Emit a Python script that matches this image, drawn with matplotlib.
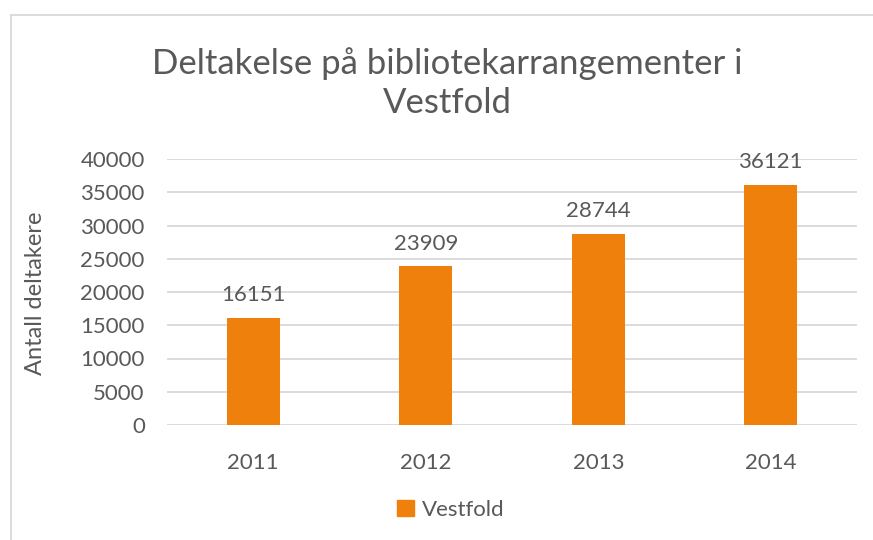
import matplotlib
matplotlib.use("Agg")
import matplotlib.pyplot as plt
from matplotlib.lines import Line2D
from matplotlib.patches import Patch

years = ["2011", "2012", "2013", "2014"]
values = [16151, 23909, 28744, 36121]
yticks = [0, 5000, 10000, 15000, 20000, 25000, 30000, 35000, 40000]
title = "Deltakelse på bibliotekarrangementer i\nVestfold"
ylabel = "Antall deltakere"
series_name = "Vestfold"

W, H = 873, 540
plt.rcParams['font.family'] = ['Lato', 'DejaVu Sans']
txt = '#595959'
orange = '#F0800C'
grid = '#D9D9D9'
fs = 16

fig = plt.figure(figsize=(W/100, H/100), dpi=100)
ax = fig.add_axes([167/W, (H-425)/H, 690/W, 266/H])

x = list(range(len(years)))
ax.bar(x, values, width=0.31, color=orange, zorder=3)
ax.set_xlim(-0.5, len(years)-0.5)
ax.set_ylim(0, 40000)
ax.set_yticks(yticks)
ax.set_yticklabels([str(v) for v in yticks])
ax.set_xticks(x)
ax.set_xticklabels(years)
ax.grid(axis='y', color=grid, linewidth=1.3, zorder=0)
for s in ax.spines.values():
    s.set_visible(False)
ax.tick_params(length=0, labelsize=fs, colors=txt)
ax.tick_params(axis='y', pad=16)
ax.tick_params(axis='x', pad=20)
for xi, v in zip(x, values):
    ax.annotate(str(v), (xi, v), xytext=(0, 9), textcoords='offset points',
                ha='center', va='bottom', fontsize=fs, color=txt)

fig.text(447/W, 1-83/H, title, ha='center', va='center', fontsize=25,
         color=txt, linespacing=1.3)
fig.text(36/W, 1-293/H, ylabel, rotation=90, ha='center', va='center',
         fontsize=17, color=txt)

leg = fig.legend([Patch(color=orange)], [series_name], loc='center',
                 bbox_to_anchor=(451/W, 1-510/H), frameon=False, fontsize=fs,
                 handlelength=0.75, handleheight=0.75, handletextpad=0.35)
for t in leg.get_texts():
    t.set_color(txt)

fig.add_artist(Line2D([10.5/W, 10.5/W], [0, 1-14.5/H], color=grid, linewidth=1.3))
fig.add_artist(Line2D([10.5/W, 1], [1-14.5/H, 1-14.5/H], color=grid, linewidth=1.3))

fig.savefig("out.png", dpi=100)
